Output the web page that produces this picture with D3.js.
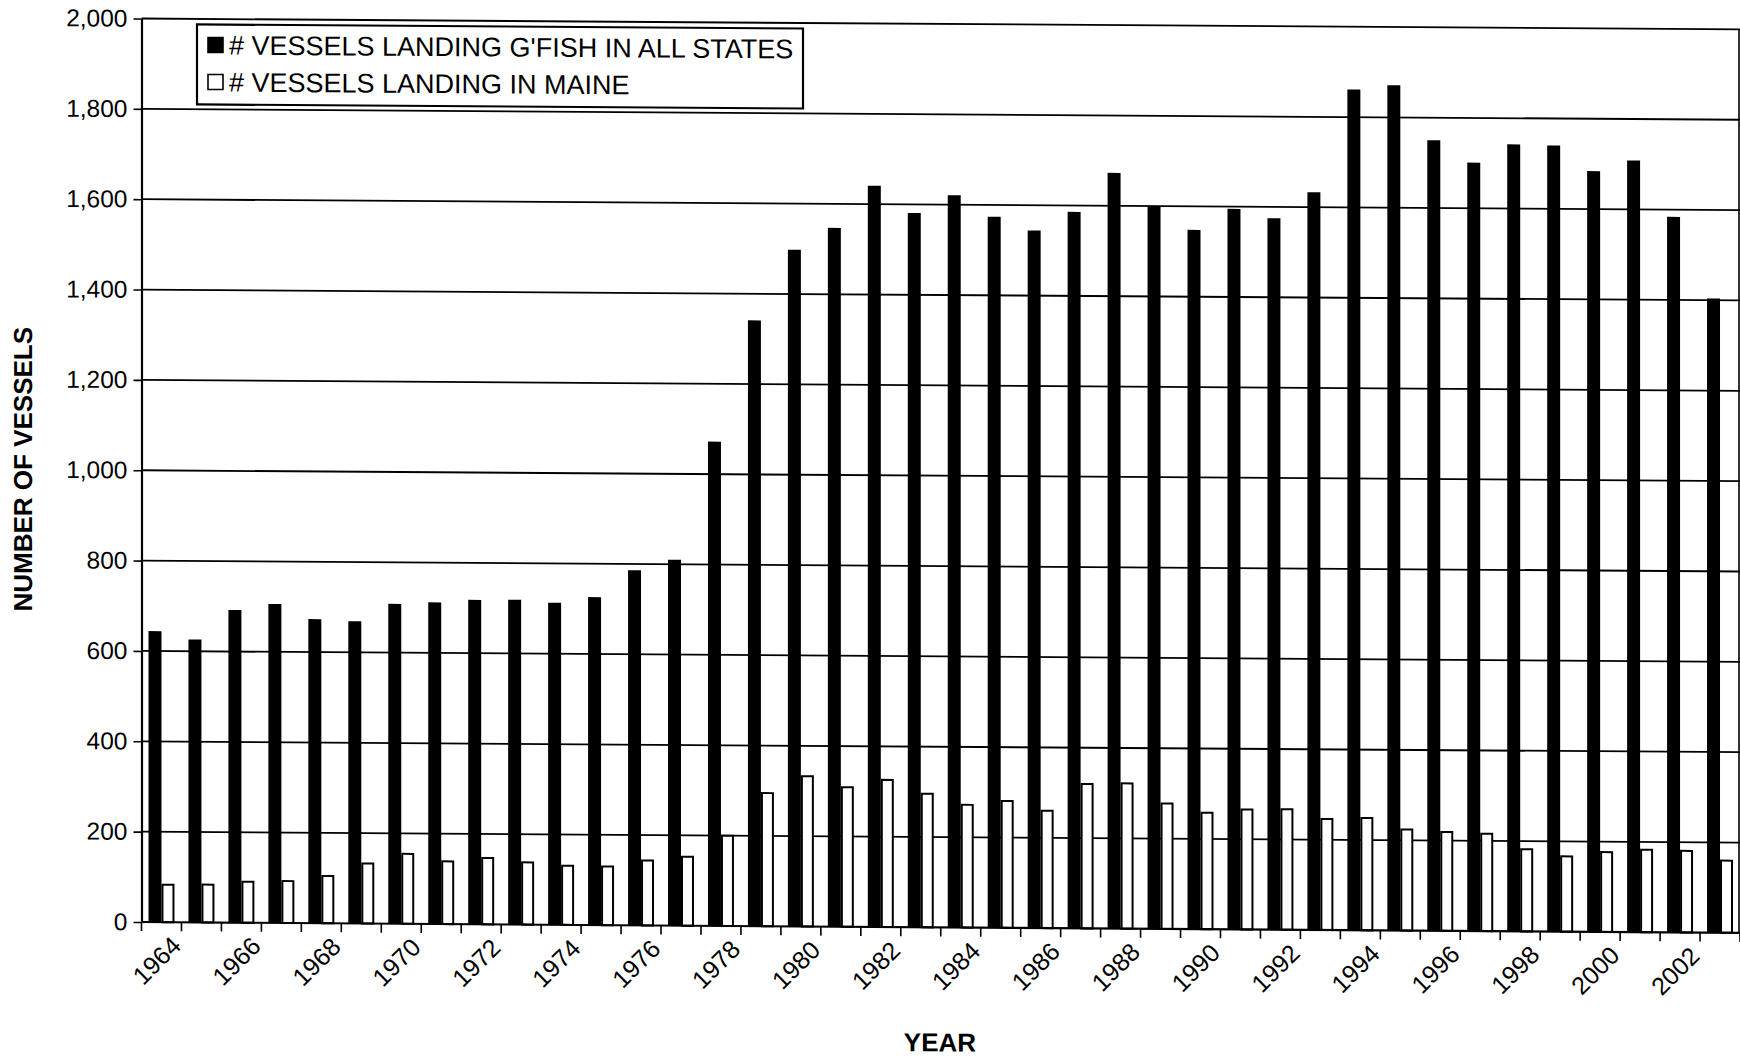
<!DOCTYPE html>
<html>
<head>
<meta charset="utf-8">
<script src="https://cdn.jsdelivr.net/npm/d3@7"></script>
<style>
  html, body { margin: 0; padding: 0; background: #fff; }
  svg { display: block; }
  text { font-family: "Liberation Sans", Arial, sans-serif; fill: #000; }
</style>
</head>
<body>
<svg id="chart" width="1740" height="1060"></svg>
<script>
// Groundfish vessel counts by year
const years = ["1964","1965","1966","1967","1968","1969","1970","1971","1972","1973",
               "1974","1975","1976","1977","1978","1979","1980","1981","1982","1983",
               "1984","1985","1986","1987","1988","1989","1990","1991","1992","1993",
               "1994","1995","1996","1997","1998","1999","2000","2001","2002","2003"];

const vesselsAllStates = [644, 626, 692, 706, 673, 669, 708, 712, 718, 719,
                          713, 726, 786, 810, 1072, 1341, 1498, 1547, 1641, 1581,
                          1621, 1574, 1544, 1586, 1673, 1600, 1548, 1595, 1575, 1633,
                          1861, 1871, 1750, 1701, 1742, 1740, 1684, 1708, 1584, 1404];

const vesselsMaine = [85, 86, 93, 95, 107, 135, 157, 141, 149, 140,
                      133, 132, 146, 155, 202, 297, 335, 311, 328, 298,
                      274, 283, 262, 322, 324, 280, 260, 268, 269, 248,
                      251, 226, 221, 218, 184, 169, 179, 185, 183, 162];

const seriesKeys = ["all", "maine"];
const seriesNames = ["# VESSELS LANDING G'FISH IN ALL STATES", "# VESSELS LANDING IN MAINE"];
const seriesFill = ["#000", "#fff"];

const yearTickLabels = ["1964","1966","1968","1970","1972","1974","1976","1978","1980","1982",
                        "1984","1986","1988","1990","1992","1994","1996","1998","2000","2002"];
const yTickValues = [0, 200, 400, 600, 800, 1000, 1200, 1400, 1600, 1800, 2000];

const xTitle = "YEAR";
const yTitle = "NUMBER OF VESSELS";

// ---- layout ----
const plot = { left: 141.5, right: 1740, top: 18.5, bottom: 922 };

const svg = d3.select("#chart");
// whole sheet sits with a slight downward tilt to the right
const root = svg.append("g").attr("transform", "translate(0,-0.96) skewY(0.39)");

const x0 = d3.scaleBand()
  .domain(years)
  .range([plot.left, plot.right])
  .paddingInner(0.35)
  .paddingOuter(0.175);

const x1 = d3.scaleBand()
  .domain(seriesKeys)
  .range([0, x0.bandwidth()]);

const y = d3.scaleLinear()
  .domain([0, 2000])
  .range([plot.bottom, plot.top]);

// ---- gridlines ----
root.append("g")
  .selectAll("line")
  .data(yTickValues.filter(d => d > 0))
  .join("line")
  .attr("x1", plot.left)
  .attr("x2", plot.right)
  .attr("y1", d => y(d))
  .attr("y2", d => y(d))
  .attr("stroke", "#000")
  .attr("stroke-width", 1.8);

// right edge of plot area
root.append("line")
  .attr("x1", plot.right - 1).attr("x2", plot.right - 1)
  .attr("y1", y(2000)).attr("y2", y(0))
  .attr("stroke", "#000").attr("stroke-width", 1.6);

// ---- bars ----
const rows = years.map((yr, i) => ({ year: yr, all: vesselsAllStates[i], maine: vesselsMaine[i] }));

const groups = root.append("g")
  .selectAll("g")
  .data(rows)
  .join("g")
  .attr("transform", d => `translate(${x0(d.year)},0)`);

groups.selectAll("rect")
  .data(d => seriesKeys.map((k, j) => ({ key: k, value: d[k], j })))
  .join("rect")
  .attr("x", d => d.j === 0 ? x1(d.key) : x1(d.key) + 1)
  .attr("width", d => d.j === 0 ? x1.bandwidth() : x1.bandwidth() - 2)
  .attr("y", d => d.j === 0 ? y(d.value) : y(d.value) + 1)
  .attr("height", d => d.j === 0 ? y(0) - y(d.value) : y(0) - y(d.value) - 1)
  .attr("fill", d => seriesFill[d.j])
  .attr("stroke", d => d.j === 0 ? "none" : "#000")
  .attr("stroke-width", 2);

// ---- y axis ----
const yAxis = root.append("g")
  .attr("transform", `translate(${plot.left},0)`)
  .call(d3.axisLeft(y)
    .tickValues(yTickValues)
    .tickFormat(d3.format(","))
    .tickSize(8)
    .tickSizeOuter(0)
    .tickPadding(6));
yAxis.select(".domain").attr("stroke-width", 2.2);
yAxis.selectAll(".tick line").attr("stroke-width", 1.6);
yAxis.selectAll(".tick text")
  .attr("font-size", 24.5)
  .attr("font-family", "Liberation Sans, Arial, sans-serif");

// ---- x axis: boundary ticks ----
const step = x0.step();
const boundaries = years.map(yr => x0(yr) - (step - x0.bandwidth()) / 2).concat([plot.right]);

root.append("line")
  .attr("x1", plot.left).attr("x2", plot.right)
  .attr("y1", y(0)).attr("y2", y(0))
  .attr("stroke", "#000").attr("stroke-width", 2.2);

root.append("g")
  .selectAll("line")
  .data(boundaries)
  .join("line")
  .attr("x1", d => d).attr("x2", d => d)
  .attr("y1", y(0)).attr("y2", y(0) + 9)
  .attr("stroke", "#000").attr("stroke-width", 1.6);

// ---- x axis: year labels ----
const xAxis = root.append("g")
  .attr("transform", `translate(0,${y(0)})`)
  .call(d3.axisBottom(x0).tickValues(yearTickLabels).tickSize(0).tickSizeOuter(0));
xAxis.select(".domain").remove();
xAxis.selectAll(".tick text")
  .attr("font-size", 25)
  .attr("font-family", "Liberation Sans, Arial, sans-serif")
  .attr("text-anchor", "end")
  .attr("x", 0).attr("y", 0).attr("dy", 0)
  .attr("transform", "translate(21,25) rotate(-45)");

// ---- axis titles ----
root.append("text")
  .attr("transform", "translate(32,470) rotate(-90)")
  .attr("text-anchor", "middle")
  .attr("font-size", 26)
  .attr("font-weight", "bold")
  .text(yTitle);

root.append("text")
  .attr("x", 940).attr("y", 1046)
  .attr("text-anchor", "middle")
  .attr("font-size", 26)
  .attr("font-weight", "bold")
  .text(xTitle);

// ---- legend ----
const legend = root.append("g").attr("transform", "translate(197,24)");
legend.append("rect")
  .attr("width", 606).attr("height", 80)
  .attr("fill", "#fff").attr("stroke", "#000").attr("stroke-width", 2.2);

const items = legend.selectAll("g.item")
  .data(seriesNames)
  .join("g")
  .attr("class", "item")
  .attr("transform", (d, i) => `translate(10,${12 + i * 37})`);

items.append("rect")
  .attr("x", 1).attr("y", 1)
  .attr("width", 15).attr("height", 15)
  .attr("fill", (d, i) => seriesFill[i])
  .attr("stroke", "#000").attr("stroke-width", 1.6);

items.append("text")
  .attr("x", 22).attr("y", 18)
  .attr("font-size", 27)
  .text(d => d);
</script>
</body>
</html>
